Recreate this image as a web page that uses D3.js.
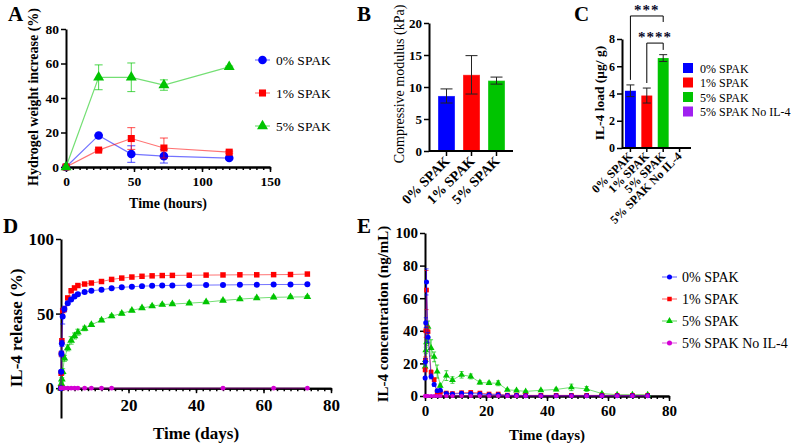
<!DOCTYPE html>
<html>
<head>
<meta charset="utf-8">
<script src="https://cdn.jsdelivr.net/npm/d3@7"></script>
<style>
body { margin: 0; background: #fff; }
svg { display: block; }
svg text { font-family: "Liberation Serif", "DejaVu Serif", "Times New Roman", Times, serif; }
</style>
</head>
<body>
<script>
// ---------- data ----------
var seriesNames = ["0% SPAK", "1% SPAK", "5% SPAK", "5% SPAK No IL-4"];

// A: hydrogel weight increase (%)
var hours = [0, 24, 48, 72, 120];
var weight0 = [0, 18.3, 7.5, 6.3, 5.2];
var weightErr0 = [0, 0.4, 4.8, 4.0, 0.4];
var weight1 = [0, 9.8, 16.5, 11.0, 8.6];
var weightErr1 = [0, 0.4, 6.3, 5.8, 0.6];
var weight5 = [0, 52, 52, 47.5, 58];
var weightErr5 = [0, 7.2, 8.3, 3.0, 0.5];

// B: compressive modulus (kPa)
var groupsB = ["0% SPAK", "1% SPAK", "5% SPAK"];
var modulus = [8.6, 11.9, 11.0];
var modulusErr = [1.1, 3.0, 0.55];

// C: IL-4 load (ug/g)
var groupsC = ["0% SPAK", "1% SPAK", "5% SPAK", "5% SPAK No IL-4"];
var load = [4.2, 3.85, 6.6, 0];
var loadErr = [0.43, 0.55, 0.25, 0];

// D: cumulative IL-4 release (%)
var days = [0, 0.04, 0.125, 0.25, 0.5, 1, 2, 3, 4, 5, 7, 9, 12, 15, 18, 21, 24, 27, 30, 33, 38, 43, 48, 53, 58, 63, 68, 73];
var release0 = [0, 11, 23, 30, 48, 53, 57, 59.5, 61.5, 63, 64.4, 65.3, 66, 67, 67.6, 68, 68.4, 68.6, 68.8, 68.9, 69, 69.1, 69.2, 69.3, 69.4, 69.5, 69.5, 69.6];
var release1 = [0, 10, 23, 31.8, 52, 53, 60.5, 65.3, 67.2, 68.8, 69.8, 70.5, 71.5, 72.9, 73.8, 74.5, 75, 75.3, 75.5, 75.6, 75.7, 75.8, 75.9, 76, 76, 76.1, 76.2, 76.5];
var release5 = [0, 1, 3, 6, 11, 20, 27, 32, 35, 37.5, 40, 42.5, 45.6, 48.3, 50.1, 52.1, 53.7, 55, 56, 56.4, 57, 57.7, 58.8, 59.7, 60.4, 60.9, 61.1, 61.2];
var releaseErr0 = [0, 1, 2, 2, 5, 2, 1, 1, 1, 1, 1, 0.5, 0.5, 0.5, 0.5, 0.5, 0.5, 0.5, 0.5, 0.5, 0.5, 0.5, 0.5, 0.5, 0.5, 0.5, 0.5, 0.5];
var releaseErr5 = [0, 1, 1, 1, 2, 2, 2, 2.5, 2, 2, 1.5, 1, 1, 1, 1, 0.8, 0.8, 0.8, 0.8, 0.8, 0.8, 0.8, 0.8, 0.8, 0.8, 0.8, 0.8, 0.8];
var daysNoIL4 = [0, 1, 2, 3, 4, 5, 7, 9, 12, 15, 48, 63, 73];
var releaseNoIL4 = [0, 0, 0, 0, 0, 0, 0, 0, 0, 0, 0, 0, 0];

// E: IL-4 concentration (ng/mL)
var daysE = [0.04, 0.125, 0.25, 0.5, 1, 2, 3, 4, 5, 7, 9, 12, 15, 18, 21, 24, 27, 30, 33, 38, 43, 48, 53, 58, 63, 68, 73];
var conc0 = [11, 21, 45, 70, 36, 12, 7, 3.2, 3.5, 1.5, 1.2, 1.6, 1.5, 1.2, 0.8, 0.8, 0.3, 0.3, 0.2, 0.2, 0.2, 0.2, 0.2, 0.2, 0.2, 0.2, 0.2];
var concErr0 = [1, 2, 3, 8, 3, 1.5, 1, 0.5, 0.5, 0.3, 0.3, 0.3, 0.3, 0.3, 0.3, 0.3, 0.2, 0.2, 0.2, 0.2, 0.2, 0.2, 0.2, 0.2, 0.2, 0.2, 0.2];
var conc1 = [16, 22, 40, 65, 39.5, 14.5, 10, 2, 2.2, 1.8, 1.5, 2, 2.2, 1.8, 1.2, 1.2, 0.5, 0.5, 0.4, 0.4, 0.4, 0.4, 0.4, 0.4, 0.4, 0.4, 0.4];
var concErr1 = [1, 2, 4, 12, 3, 1.5, 1, 0.5, 0.5, 0.3, 0.3, 0.3, 0.3, 0.3, 0.3, 0.3, 0.2, 0.2, 0.2, 0.2, 0.2, 0.2, 0.2, 0.2, 0.2, 0.2, 0.2];
var conc5 = [18, 22, 28, 33, 42.5, 29.5, 24, 15, 6.3, 12.5, 9.8, 13, 12, 8.3, 8, 7.8, 3.8, 3.4, 2.8, 3.5, 4, 5.3, 4.3, 1.5, 0.8, 0.8, 0.8];
var concErr5 = [1, 1, 2, 2, 3.5, 5, 3, 4, 1, 3, 2, 2, 1.5, 1, 1, 1.5, 0.5, 0.5, 0.5, 0.5, 0.8, 2, 1.5, 0.5, 0.3, 0.3, 0.3];
var concNoIL4 = [0, 0, 0, 0, 0, 0, 0, 0, 0, 0, 0, 0, 0, 0, 0, 0, 0, 0, 0, 0, 0, 0, 0, 0, 0, 0, 0];

// ---------- setup ----------
var width = 798, height = 445;
var blue = "#0000ff", red = "#ff0000", green = "#00c400", magenta = "#d400d4", violet = "#a020f0";
var shapes = [d3.symbolCircle, d3.symbolSquare, d3.symbolTriangle, d3.symbolCircle];
var colors = [blue, red, green, magenta];
var serif = "'Liberation Serif', 'DejaVu Serif', 'Times New Roman', Times, serif";

var svg = d3.select("body").append("svg")
    .attr("width", width)
    .attr("height", height)
    .attr("font-family", serif);

// styles the axis groups made by d3
function styleAxis(g, fs) {
  g.attr("font-family", serif).attr("font-size", null);
  g.select(".domain").attr("stroke-width", 2);
  g.selectAll(".tick line").attr("stroke-width", 1.5);
  g.selectAll(".tick text").attr("font-size", fs).attr("font-weight", "bold").attr("fill", "#000");
}

function axisTitle(x, y, txt, fs, rotate, weight) {
  svg.append("text")
      .attr("transform", "translate(" + x + "," + y + ")" + (rotate ? " rotate(-90)" : ""))
      .attr("text-anchor", "middle")
      .attr("font-size", fs)
      .attr("font-weight", weight || "bold")
      .text(txt);
}

function panelLetter(x, y, txt) {
  svg.append("text").attr("x", x).attr("y", y)
      .attr("font-size", 21).attr("font-weight", "bold").text(txt);
}

// line + error bars + markers for one series
function drawSeries(g, xs, ys, errs, x, y, color, shape, size, cap, lineW) {
  var pts = xs.map(function(d, i) { return {x: d, y: ys[i], e: errs ? errs[i] : 0}; });
  g.append("path")
      .datum(pts)
      .attr("fill", "none")
      .attr("stroke", color)
      .attr("stroke-opacity", 0.55)
      .attr("stroke-width", lineW || 1.2)
      .attr("d", d3.line().x(function(d) { return x(d.x); }).y(function(d) { return y(d.y); }));
  var eb = g.append("g").attr("stroke", color).attr("stroke-opacity", 0.7).attr("stroke-width", 1);
  pts.filter(function(d) { return d.e > 0; }).forEach(function(d) {
    eb.append("line").attr("x1", x(d.x)).attr("x2", x(d.x)).attr("y1", y(d.y - d.e)).attr("y2", y(d.y + d.e));
    eb.append("line").attr("x1", x(d.x) - cap).attr("x2", x(d.x) + cap).attr("y1", y(d.y + d.e)).attr("y2", y(d.y + d.e));
    eb.append("line").attr("x1", x(d.x) - cap).attr("x2", x(d.x) + cap).attr("y1", y(d.y - d.e)).attr("y2", y(d.y - d.e));
  });
  g.selectAll(null)
    .data(pts)
    .enter().append("path")
      .attr("transform", function(d) { return "translate(" + x(d.x) + "," + y(d.y) + ")"; })
      .attr("d", d3.symbol().type(shape).size(size))
      .attr("fill", color);
}

// ---------- panel A ----------
var xA = d3.scaleLinear().domain([0, 150]).range([66, 270]);
var yA = d3.scaleLinear().domain([0, 80]).range([167, 29]);
var gA = svg.append("g");

gA.append("g").attr("transform", "translate(0," + yA(0) + ")")
    .call(d3.axisBottom(xA).tickValues(d3.range(0, 151, 5)).tickSize(3).tickSizeOuter(0).tickFormat(""))
    .call(styleAxis, 13);
gA.append("g").attr("transform", "translate(0," + yA(0) + ")")
    .call(d3.axisBottom(xA).tickValues([0, 50, 100, 150]).tickSize(5).tickSizeOuter(0).tickPadding(4))
    .call(styleAxis, 13.5);
gA.append("g").attr("transform", "translate(" + xA(0) + ",0)")
    .call(d3.axisLeft(yA).tickValues([0, 20, 40, 60, 80]).tickSize(5).tickSizeOuter(0).tickPadding(2))
    .call(styleAxis, 13.5);

var weights = [weight0, weight1, weight5];
var weightErrs = [weightErr0, weightErr1, weightErr5];
var markerA = [58, 50, 52];
weights.forEach(function(w, i) {
  drawSeries(gA, hours, w, weightErrs[i], xA, yA, colors[i], shapes[i], markerA[i], 4);
});

// legend A
[0, 1, 2].forEach(function(i) {
  var ly = 60 + i * 33;
  gA.append("line").attr("x1", 255).attr("x2", 270).attr("y1", ly).attr("y2", ly)
      .attr("stroke", colors[i]).attr("stroke-opacity", 0.55).attr("stroke-width", 1.2);
  gA.append("path").attr("transform", "translate(262.5," + ly + ")")
      .attr("d", d3.symbol().type(shapes[i]).size(markerA[i])).attr("fill", colors[i]);
  gA.append("text").attr("x", 276).attr("y", ly + 5).attr("font-size", 13.5).text(seriesNames[i]);
});

panelLetter(8, 21, "A");
axisTitle(38, 97, "Hydrogel weight increase (%)", 14, true);
axisTitle(168, 208, "Time (hours)", 14, false);

// ---------- panel B ----------
var xB = d3.scaleBand().domain(groupsB).range([434, 509]).paddingInner(0.32).paddingOuter(0.16);
var yB = d3.scaleLinear().domain([0, 20]).range([151, 23]);
var gB = svg.append("g");
var barColors = [blue, red, green, violet];

gB.selectAll("rect")
  .data(groupsB)
  .enter().append("rect")
    .attr("x", function(d) { return xB(d); })
    .attr("width", xB.bandwidth())
    .attr("y", function(d, i) { return yB(modulus[i]); })
    .attr("height", function(d, i) { return yB(0) - yB(modulus[i]); })
    .attr("fill", function(d, i) { return barColors[i]; })
    .attr("stroke", "#fff").attr("stroke-opacity", 0.35).attr("stroke-width", 1);

groupsB.forEach(function(d, i) {
  var cx = xB(d) + xB.bandwidth() / 2, cap = 6;
  var g = gB.append("g").attr("stroke", "#222").attr("stroke-width", 1);
  g.append("line").attr("x1", cx).attr("x2", cx).attr("y1", yB(modulus[i] - modulusErr[i])).attr("y2", yB(modulus[i] + modulusErr[i]));
  g.append("line").attr("x1", cx - cap).attr("x2", cx + cap).attr("y1", yB(modulus[i] + modulusErr[i])).attr("y2", yB(modulus[i] + modulusErr[i]));
  g.append("line").attr("x1", cx - cap).attr("x2", cx + cap).attr("y1", yB(modulus[i] - modulusErr[i])).attr("y2", yB(modulus[i] - modulusErr[i]));
});

var axB = gB.append("g").attr("transform", "translate(0," + yB(0) + ")")
    .call(d3.axisBottom(xB).tickSize(5).tickSizeOuter(0).tickFormat(""))
    .call(styleAxis, 14);
axB.select(".domain").remove();
gB.append("line").attr("x1", 429).attr("x2", 513).attr("y1", yB(0)).attr("y2", yB(0))
    .attr("stroke", "#000").attr("stroke-width", 2);
gB.selectAll(".lblB")
  .data(groupsB)
  .enter().append("text")
    .attr("class", "lblB")
    .attr("transform", function(d) { return "translate(" + (xB(d) + xB.bandwidth() / 2 + 4) + "," + (yB(0) + 11) + ") rotate(-45)"; })
    .attr("text-anchor", "end")
    .attr("font-size", 14).attr("font-weight", "bold")
    .text(function(d) { return d; });
gB.append("g").attr("transform", "translate(429,0)")
    .call(d3.axisLeft(yB).tickValues([0, 5, 10, 15, 20]).tickSize(5).tickSizeOuter(0).tickPadding(2))
    .call(styleAxis, 13);

panelLetter(357, 21, "B");
axisTitle(404, 84, "Compressive modulus (kPa)", 14, true, "normal");

// ---------- panel C ----------
var xC = d3.scaleBand().domain(groupsC).range([622, 688]).paddingInner(0.333).paddingOuter(0.18);
var yC = d3.scaleLinear().domain([0, 8]).range([148, 39]);
var gC = svg.append("g");

gC.selectAll("rect")
  .data(groupsC)
  .enter().append("rect")
    .attr("x", function(d) { return xC(d); })
    .attr("width", xC.bandwidth())
    .attr("y", function(d, i) { return yC(load[i]); })
    .attr("height", function(d, i) { return yC(0) - yC(load[i]); })
    .attr("fill", function(d, i) { return barColors[i]; });

groupsC.forEach(function(d, i) {
  if (loadErr[i] <= 0) return;
  var cx = xC(d) + xC.bandwidth() / 2, cap = 4;
  var g = gC.append("g").attr("stroke", "#222").attr("stroke-width", 1);
  g.append("line").attr("x1", cx).attr("x2", cx).attr("y1", yC(load[i] - loadErr[i])).attr("y2", yC(load[i] + loadErr[i]));
  g.append("line").attr("x1", cx - cap).attr("x2", cx + cap).attr("y1", yC(load[i] + loadErr[i])).attr("y2", yC(load[i] + loadErr[i]));
  g.append("line").attr("x1", cx - cap).attr("x2", cx + cap).attr("y1", yC(load[i] - loadErr[i])).attr("y2", yC(load[i] - loadErr[i]));
});

var axC = gC.append("g").attr("transform", "translate(0," + yC(0) + ")")
    .call(d3.axisBottom(xC).tickSize(4).tickSizeOuter(0).tickFormat(""))
    .call(styleAxis, 12);
axC.select(".domain").remove();
gC.append("line").attr("x1", 622).attr("x2", 691).attr("y1", yC(0)).attr("y2", yC(0))
    .attr("stroke", "#000").attr("stroke-width", 2);
gC.selectAll(".lblC")
  .data(groupsC)
  .enter().append("text")
    .attr("class", "lblC")
    .attr("transform", function(d) { return "translate(" + (xC(d) + xC.bandwidth() / 2 + 3) + "," + (yC(0) + 9) + ") rotate(-45)"; })
    .attr("text-anchor", "end")
    .attr("font-size", 12).attr("font-weight", "bold")
    .text(function(d) { return d; });
gC.append("g").attr("transform", "translate(622,0)")
    .call(d3.axisLeft(yC).tickValues([0, 2, 4, 6, 8]).tickSize(5).tickSizeOuter(0).tickPadding(2))
    .call(styleAxis, 12);

// significance brackets
function bracket(a, b, top, legA, legB, label) {
  var xa = xC(groupsC[a]) + xC.bandwidth() / 2, xb = xC(groupsC[b]) + xC.bandwidth() / 2;
  gC.append("path")
      .attr("d", "M" + xa + "," + yC(legA) + "V" + yC(top) + "H" + xb + "V" + yC(legB))
      .attr("fill", "none").attr("stroke", "#000").attr("stroke-width", 1);
  gC.append("text").attr("x", (xa + xb) / 2).attr("y", yC(top) - 1)
      .attr("text-anchor", "middle").attr("font-size", 15).attr("font-weight", "bold")
      .attr("letter-spacing", 1).attr("fill", "#0a0a2a").text(label);
}
bracket(0, 2, 9.69, 5.0, 9.25, "***");
bracket(1, 2, 7.7, 4.77, 7.2, "****");

// legend C
groupsC.forEach(function(d, i) {
  var ly = 68 + i * 14.5;
  gC.append("rect").attr("x", 683).attr("y", ly - 5).attr("width", 10).attr("height", 10).attr("fill", barColors[i]);
  gC.append("text").attr("x", 700).attr("y", ly + 4.5).attr("font-size", 12).text(d);
});

panelLetter(574, 21, "C");
axisTitle(604, 93, "IL-4 load (\u03bcg/ g)", 13.5, true);

// ---------- panel D ----------
var xD = d3.scaleLinear().domain([0, 80]).range([61, 331]);
var yD = d3.scaleLinear().domain([-20, 100]).range([418, 239]);
var gD = svg.append("g");

gD.append("g").attr("transform", "translate(0," + yD(0) + ")")
    .call(d3.axisBottom(xD).tickValues(d3.range(0, 81, 2)).tickSize(3).tickSizeOuter(0).tickFormat(""))
    .call(styleAxis, 17);
gD.append("g").attr("transform", "translate(0," + yD(0) + ")")
    .call(d3.axisBottom(xD).tickValues([20, 40, 60, 80]).tickSize(5).tickSizeOuter(0).tickPadding(6))
    .call(styleAxis, 17);
gD.append("g").attr("transform", "translate(" + xD(0) + ",0)")
    .call(d3.axisLeft(yD).tickValues([0, 50, 100]).tickSize(5).tickSizeOuter(0).tickPadding(2))
    .call(styleAxis, 17);

drawSeries(gD, days, release5, releaseErr5, xD, yD, green, d3.symbolTriangle, 26, 2.5, 1);
drawSeries(gD, days, release1, null, xD, yD, red, d3.symbolSquare, 30, 2.5, 1);
drawSeries(gD, days, release0, releaseErr0, xD, yD, blue, d3.symbolCircle, 28, 2.5, 1);
drawSeries(gD, daysNoIL4, releaseNoIL4, null, xD, yD, magenta, d3.symbolCircle, 18, 2.5, 1);

panelLetter(3, 233, "D");
axisTitle(22, 328, "IL-4 release (%)", 17, true);
axisTitle(196, 439, "Time (days)", 17, false);

// ---------- panel E ----------
var xE = d3.scaleLinear().domain([0, 80]).range([425, 669]);
var yE = d3.scaleLinear().domain([0, 100]).range([396, 233]);
var gE = svg.append("g");

gE.append("g").attr("transform", "translate(0," + yE(0) + ")")
    .call(d3.axisBottom(xE).tickValues(d3.range(0, 81, 2)).tickSize(3).tickSizeOuter(0).tickFormat(""))
    .call(styleAxis, 15);
gE.append("g").attr("transform", "translate(0," + yE(0) + ")")
    .call(d3.axisBottom(xE).tickValues([0, 20, 40, 60, 80]).tickSize(5).tickSizeOuter(0).tickPadding(4))
    .call(styleAxis, 15);
gE.append("g").attr("transform", "translate(" + xE(0) + ",0)")
    .call(d3.axisLeft(yE).tickValues([0, 20, 40, 60, 80, 100]).tickSize(5).tickSizeOuter(0).tickPadding(2))
    .call(styleAxis, 15);

drawSeries(gE, daysE, conc5, concErr5, xE, yE, green, d3.symbolTriangle, 20, 2, 1);
drawSeries(gE, daysE, conc1, concErr1, xE, yE, red, d3.symbolSquare, 22, 2, 1);
drawSeries(gE, daysE, conc0, concErr0, xE, yE, blue, d3.symbolCircle, 20, 2, 1);
drawSeries(gE, daysE, concNoIL4, null, xE, yE, magenta, d3.symbolCircle, 14, 2, 1);

// legend E
seriesNames.forEach(function(d, i) {
  var ly = 277 + i * 22;
  gE.append("line").attr("x1", 662).attr("x2", 677).attr("y1", ly).attr("y2", ly)
      .attr("stroke", colors[i]).attr("stroke-opacity", 0.55).attr("stroke-width", 1.2);
  gE.append("path").attr("transform", "translate(669.5," + ly + ")")
      .attr("d", d3.symbol().type(shapes[i]).size(20)).attr("fill", colors[i]);
  gE.append("text").attr("x", 682).attr("y", ly + 5).attr("font-size", 14).text(d);
});

panelLetter(357, 233, "E");
axisTitle(388, 314, "IL-4 concentration (ng/mL)", 15, true);
axisTitle(547, 440, "Time (days)", 15, false);
</script>
</body>
</html>
